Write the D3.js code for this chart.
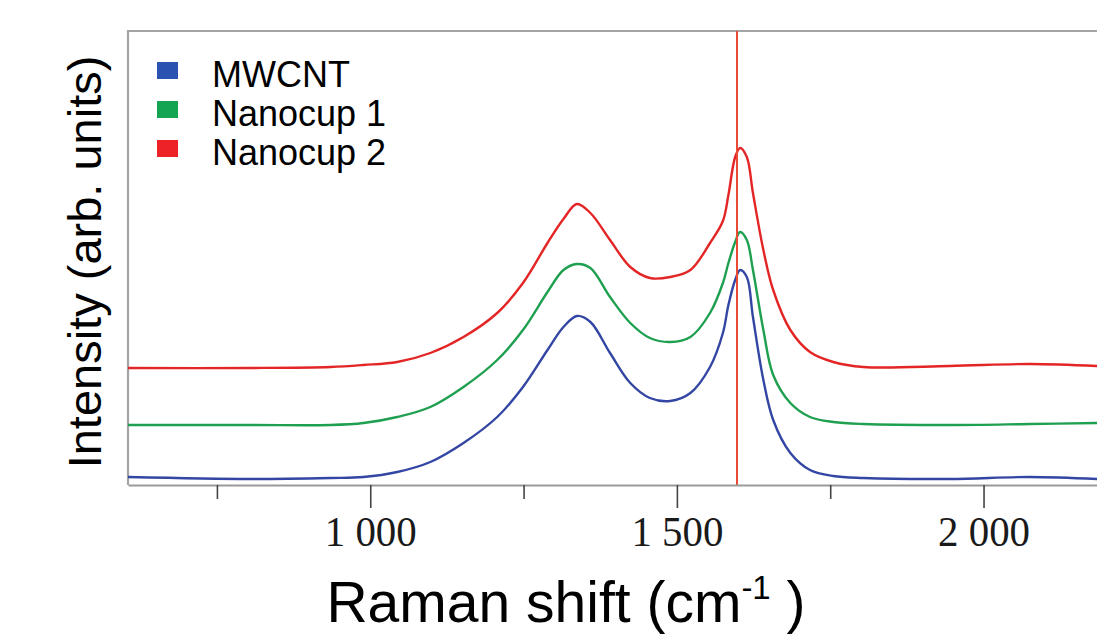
<!DOCTYPE html>
<html>
<head>
<meta charset="utf-8">
<script src="https://cdn.jsdelivr.net/npm/d3@7"></script>
<style>
    body { margin: 0; background: #fff; }
    svg { display: block; }
</style>
</head>
<body>
<div id="chart"></div>
<script>
// Raman shift (cm-1) at which each series was read
const shifts = [605, 804, 935, 989, 1044, 1098, 1152, 1207, 1249, 1289, 1315, 1337, 1359, 1391,
    1424, 1456, 1489, 1522, 1554, 1575, 1584, 1595, 1603, 1614, 1624, 1641, 1657, 1685,
    1717, 1755, 1804, 1945, 2076, 2185]

// intensities, arbitrary units (offset stacked, as in the figure)
const mwcnt = [8, 6, 7, 8, 13, 23, 42, 68, 98, 135, 158, 169, 163, 132,
    102, 87, 84, 92, 118, 152, 180, 205, 215, 208, 168, 105, 65, 32,
    15, 9, 7, 6, 8, 6]
const nanocup1 = [60, 60, 60, 62, 68, 78, 98, 125, 155, 193, 215, 221, 217, 188,
    162, 147, 143, 148, 172, 202, 222, 243, 253, 245, 215, 155, 110, 82,
    68, 63, 61, 60, 61, 62]
const nanocup2 = [117, 117, 118, 120, 123, 132, 148, 172, 202, 242, 266, 281, 272, 245,
    218, 207, 208, 215, 242, 264, 290, 328, 337, 328, 292, 235, 195, 155,
    133, 123, 118, 119, 121, 119]

const seriesNames = ['MWCNT', 'Nanocup 1', 'Nanocup 2']
const lineColors = ['#3446a3', '#1fa050', '#e42525']
const legendColors = ['#2a52b0', '#13a552', '#ec2227']

const tickValues = [750, 1000, 1250, 1500, 1750, 2000]
const labelledTicks = [1000, 1500, 2000]
const gBandShift = 1598

const width = 1097
const height = 639
const margin = { top: 31, right: 0, bottom: 154, left: 128 }
const plotBottom = height - margin.bottom

const x = d3.scaleLinear()
    .domain([605, 2185])
    .range([margin.left, width - margin.right])

const y = d3.scaleLinear()
    .domain([0, 455])
    .range([plotBottom, 30])

const svg = d3.select('#chart').append('svg')
    .attr('width', width)
    .attr('height', height)

// clip so traces stop at the frame
svg.append('clipPath').attr('id', 'plotClip')
    .append('rect')
    .attr('x', margin.left).attr('y', margin.top)
    .attr('width', width - margin.left).attr('height', plotBottom - margin.top)

// frame (top + left), right side is cut off in the figure
svg.append('path')
    .attr('d', `M${margin.left},${plotBottom} V${margin.top} H${width}`)
    .attr('fill', 'none')
    .attr('stroke', '#a4a4a4')
    .attr('stroke-width', 2.2)

const line = d3.line()
    .x(d => x(d[0]))
    .y(d => y(d[1]))
    .curve(d3.curveCatmullRom.alpha(0.5))

const allSeries = [mwcnt, nanocup1, nanocup2]
const traces = svg.append('g').attr('clip-path', 'url(#plotClip)')

traces.selectAll('.trace')
    .data(allSeries)
    .enter().append('path')
    .attr('class', 'trace')
    .attr('d', d => line(d.map((v, i) => [shifts[i], v])))
    .attr('fill', 'none')
    .attr('stroke', (d, i) => lineColors[i])
    .attr('stroke-width', 2.4)
    .attr('stroke-linejoin', 'round')

// G band marker
svg.append('line')
    .attr('x1', x(gBandShift)).attr('x2', x(gBandShift))
    .attr('y1', margin.top).attr('y2', plotBottom)
    .attr('stroke', '#ea4a33')
    .attr('stroke-width', 2)

// x axis
const fmt = d => d3.format(',')(d).replace(',', ' ')
const xAxis = d3.axisBottom(x)
    .tickValues(tickValues)
    .tickSize(0)
    .tickFormat('')

const axisG = svg.append('g')
    .attr('transform', `translate(0,${plotBottom})`)
    .call(xAxis)
axisG.select('.domain').attr('stroke', '#9a9a9a').attr('stroke-width', 2.2)

axisG.selectAll('.tick line')
    .attr('y2', d => labelledTicks.includes(d) ? 23 : 14)
    .attr('stroke', '#444')
    .attr('stroke-width', 1.6)

axisG.selectAll('.tick')
    .filter(d => labelledTicks.includes(d))
    .append('text')
    .attr('y', 61)
    .attr('fill', '#1a1a1a')
    .attr('text-anchor', 'middle')
    .attr('font-family', '"Liberation Serif", "DejaVu Serif", serif')
    .attr('font-size', 42)
    .attr('textLength', 92)
    .attr('lengthAdjust', 'spacingAndGlyphs')
    .text(fmt)

// axis titles
svg.append('text')
    .attr('transform', 'translate(101,262) rotate(-90)')
    .attr('text-anchor', 'middle')
    .attr('font-family', '"Liberation Sans", Arial, sans-serif')
    .attr('font-size', 47)
    .attr('fill', '#000')
    .text('Intensity (arb. units)')

const xTitle = svg.append('text')
    .attr('x', 566)
    .attr('y', 622)
    .attr('text-anchor', 'middle')
    .attr('font-family', '"Liberation Sans", Arial, sans-serif')
    .attr('font-size', 57)
    .attr('fill', '#000')
xTitle.append('tspan').text('Raman shift (cm')
xTitle.append('tspan').attr('font-size', 33).attr('dy', -23).text('-1')
xTitle.append('tspan').attr('dy', 23).text(' )')

// legend
const legend = svg.append('g')
    .selectAll('.legendItem')
    .data(seriesNames)
    .enter().append('g')
    .attr('class', 'legendItem')
    .attr('transform', (d, i) => `translate(157,${62 + i * 39})`)

legend.append('rect')
    .attr('width', 21)
    .attr('height', 17)
    .attr('fill', (d, i) => legendColors[i])

legend.append('text')
    .attr('x', 55)
    .attr('y', 25)
    .attr('font-family', '"Liberation Sans", Arial, sans-serif')
    .attr('font-size', 36)
    .attr('fill', '#000')
    .text(d => d)
</script>
</body>
</html>
